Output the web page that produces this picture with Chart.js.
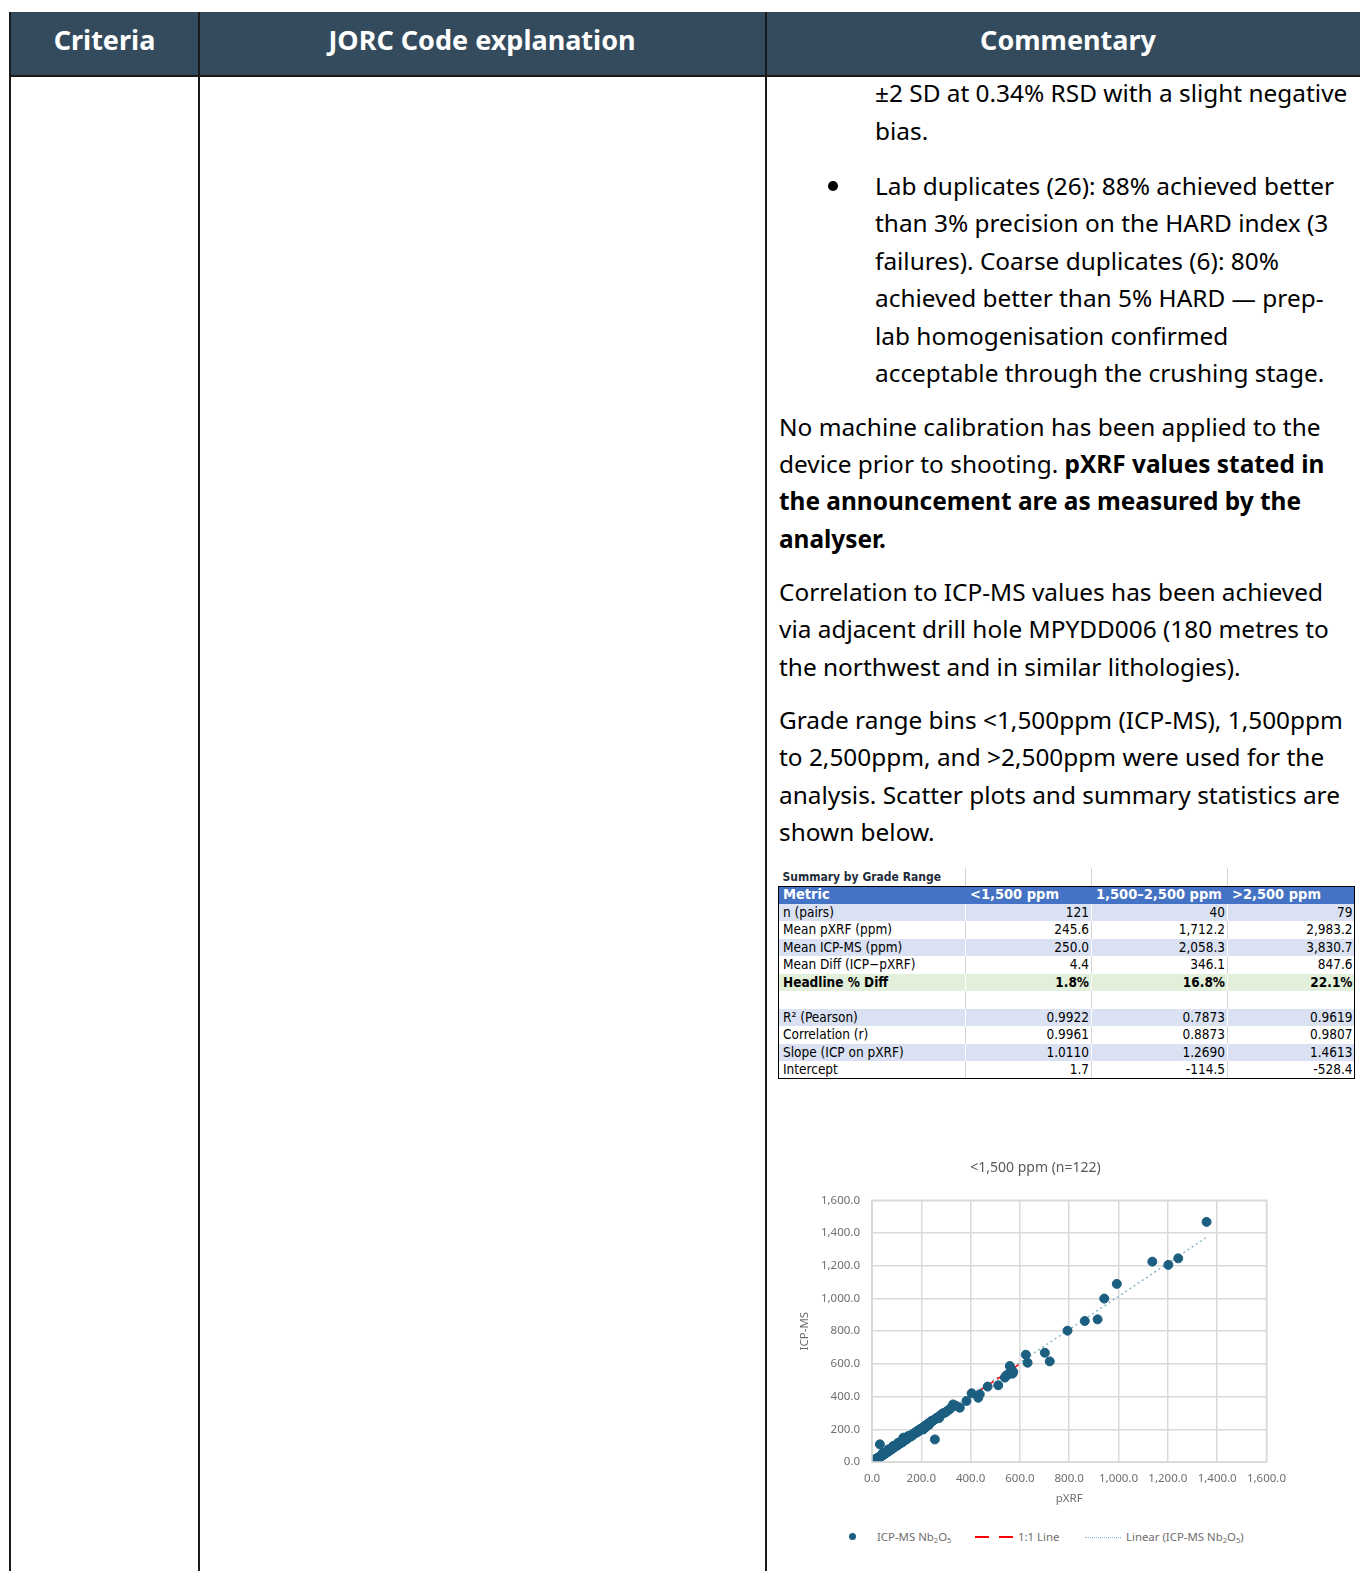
<!DOCTYPE html>
<html>
<head>
<meta charset="utf-8">
<title>Grade range comparison</title>
<script src="https://cdn.jsdelivr.net/npm/chart.js@4.4.1/dist/chart.umd.min.js"></script>
<style>
  html, body { margin: 0; padding: 0; background: #fff; }
  body { width: 1360px; height: 1571px; position: relative; overflow: hidden; font-family: "Noto Sans", "Open Sans", sans-serif; color: #000; }
  .hdr { position: absolute; left: 10px; top: 12px; width: 1350px; height: 64px; background: #344b5d; }
  .hcell { position: absolute; top: 12px; height: 64px; line-height: 56px; color: #fff; font-weight: 700; font-size: 27px; text-align: center; }
  .vline { position: absolute; top: 12px; bottom: 0; width: 2px; background: #1a1a1a; }
  .hline { position: absolute; left: 10px; width: 1350px; height: 2px; background: #1a1a1a; }
  .ln { position: absolute; white-space: nowrap; font-size: 24.4px; line-height: 36px; }
  .bullet { position: absolute; left: 828px; width: 10px; height: 10px; border-radius: 50%; background: #000; }
  table.sum { position: absolute; left: 778px; top: 868px; border-collapse: collapse; table-layout: fixed;
    font-family: "DejaVu Sans Condensed", "DejaVu Sans", sans-serif; font-stretch: condensed; font-size: 13.5px; }
  table.sum td { height: 17.5px; padding: 0 4px 0 4px; box-sizing: border-box; white-space: nowrap; overflow: hidden; border-left: 1px solid #d4d4d4; line-height: 17px; }
  table.sum td.n { text-align: right; padding-right: 2px; }
  table.sum tr.title td { font-weight: 700; color: #1f2d3a; font-size: 12px; height: 18px; }
  table.sum tr.head td { background: #4472c4; color: #fff; font-weight: 700; font-size: 14.5px; border-left-color: #4472c4; }
  table.sum tr.blue td { background: #d9e1f2; border-left-color: #fff; }
  table.sum tr.white td { background: #fff; }
  table.sum tr.green td { background: #e2efda; font-weight: 700; border-left-color: #fff; }
  .box { position: absolute; left: 778px; top: 886px; width: 575px; height: 191px; border: 1px solid #000; pointer-events: none; }
  #chartWrap { position: absolute; left: 778px; top: 1140px; width: 518px; height: 370px; }
  .leg { position: absolute; top: 1529px; font-size: 11.4px; color: #6e6e6e; white-space: nowrap; line-height: 16px; }
  .leg sub { font-size: 7.5px; vertical-align: -2px; }
</style>
</head>
<body>
<div class="hdr"></div>
<div class="hcell" style="left:10px;width:189px;">Criteria</div>
<div class="hcell" style="left:199px;width:566px;">JORC Code explanation</div>
<div class="hcell" style="left:765px;width:606px;">Commentary</div>
<div class="hline" style="top:75px;"></div>
<div class="vline" style="left:9px;"></div>
<div class="vline" style="left:198px;"></div>
<div class="vline" style="left:765px;"></div>

<div class="ln" style="left:875px;top:75px;">±2 SD at 0.34% RSD with a slight negative</div>
<div class="ln" style="left:875px;top:113px;">bias.</div>
<div class="bullet" style="top:181px;"></div>
<div class="ln" style="left:875px;top:168px;">Lab duplicates (26): 88% achieved better</div>
<div class="ln" style="left:875px;top:205px;">than 3% precision on the HARD index (3</div>
<div class="ln" style="left:875px;top:243px;">failures). Coarse duplicates (6): 80%</div>
<div class="ln" style="left:875px;top:280px;">achieved better than 5% HARD — prep-</div>
<div class="ln" style="left:875px;top:318px;">lab homogenisation confirmed</div>
<div class="ln" style="left:875px;top:355px;">acceptable through the crushing stage.</div>

<div class="ln" style="left:779px;top:409px;">No machine calibration has been applied to the</div>
<div class="ln" style="left:779px;top:446px;">device prior to shooting. <b>pXRF values stated in</b></div>
<div class="ln" style="left:779px;top:483px;"><b>the announcement are as measured by the</b></div>
<div class="ln" style="left:779px;top:521px;"><b>analyser.</b></div>

<div class="ln" style="left:779px;top:574px;">Correlation to ICP-MS values has been achieved</div>
<div class="ln" style="left:779px;top:611px;">via adjacent drill hole MPYDD006 (180 metres to</div>
<div class="ln" style="left:779px;top:649px;">the northwest and in similar lithologies).</div>

<div class="ln" style="left:779px;top:702px;">Grade range bins &lt;1,500ppm (ICP-MS), 1,500ppm</div>
<div class="ln" style="left:779px;top:739px;">to 2,500ppm, and &gt;2,500ppm were used for the</div>
<div class="ln" style="left:779px;top:777px;">analysis. Scatter plots and summary statistics are</div>
<div class="ln" style="left:779px;top:814px;">shown below.</div>

<table class="sum">
  <colgroup><col style="width:187px"><col style="width:126px"><col style="width:136px"><col style="width:127px"></colgroup>
  <tr class="title"><td style="border-left:none">Summary by Grade Range</td><td></td><td></td><td></td></tr>
  <tr class="head"><td>Metric</td><td>&lt;1,500 ppm</td><td>1,500–2,500 ppm</td><td>&gt;2,500 ppm</td></tr>
  <tr class="blue"><td>n (pairs)</td><td class="n">121</td><td class="n">40</td><td class="n">79</td></tr>
  <tr class="white"><td>Mean pXRF (ppm)</td><td class="n">245.6</td><td class="n">1,712.2</td><td class="n">2,983.2</td></tr>
  <tr class="blue"><td>Mean ICP-MS (ppm)</td><td class="n">250.0</td><td class="n">2,058.3</td><td class="n">3,830.7</td></tr>
  <tr class="white"><td>Mean Diff (ICP−pXRF)</td><td class="n">4.4</td><td class="n">346.1</td><td class="n">847.6</td></tr>
  <tr class="green"><td>Headline % Diff</td><td class="n">1.8%</td><td class="n">16.8%</td><td class="n">22.1%</td></tr>
  <tr class="white"><td></td><td></td><td></td><td></td></tr>
  <tr class="blue"><td>R² (Pearson)</td><td class="n">0.9922</td><td class="n">0.7873</td><td class="n">0.9619</td></tr>
  <tr class="white"><td>Correlation (r)</td><td class="n">0.9961</td><td class="n">0.8873</td><td class="n">0.9807</td></tr>
  <tr class="blue"><td>Slope (ICP on pXRF)</td><td class="n">1.0110</td><td class="n">1.2690</td><td class="n">1.4613</td></tr>
  <tr class="white"><td>Intercept</td><td class="n">1.7</td><td class="n">-114.5</td><td class="n">-528.4</td></tr>
</table>
<div class="box"></div>

<div id="chartWrap"><canvas id="scatterChart"></canvas></div>

<div class="leg" style="left:849px;"><span style="display:inline-block;width:7px;height:7px;border-radius:50%;background:#1b5e80;vertical-align:1px;"></span></div>
<div class="leg" style="left:877px;">ICP-MS Nb<sub>2</sub>O<sub>5</sub></div>
<div class="leg" style="left:975px;top:1536px;width:14px;height:0;border-top:2px solid #ff0000;"></div>
<div class="leg" style="left:999px;top:1536px;width:14px;height:0;border-top:2px solid #ff0000;"></div>
<div class="leg" style="left:1018px;">1:1 Line</div>
<div class="leg" style="left:1085px;top:1537px;width:36px;height:0;border-top:1px dotted #8db6cc;"></div>
<div class="leg" style="left:1126px;">Linear (ICP-MS Nb<sub>2</sub>O<sub>5</sub>)</div>

<script>
// pXRF vs ICP-MS pairs, <1,500 ppm bin
const pxrf = [
  1357, 1137, 1202, 1242, 993, 942, 915, 863, 793, 701, 721, 624, 631, 559, 573, 553, 539, 565, 570, 545,
  512, 469, 437, 431, 404, 383, 356, 329, 282, 255, 241, 221, 208, 174, 147, 127, 106, 86, 66, 45, 32, 18, 12,
  5, 8, 10, 14, 16, 20, 22, 25, 28, 30, 34, 36, 38, 40, 43, 47, 50, 52, 55, 58, 60, 63, 68, 70, 72, 75,
  78, 80, 83, 88, 90, 93, 96, 98, 101, 104, 109, 112, 115, 118, 120, 124, 130, 133, 136, 140, 143, 150,
  155, 158, 162, 166, 170, 178, 182, 186, 190, 195, 200, 204, 212, 215, 218, 225, 228, 232, 236, 245,
  250, 258, 262, 268, 272, 276, 286, 292, 298, 305, 315, 320, 340
];
const icp = [
  1468, 1225, 1205, 1245, 1089, 999, 872, 862, 803, 668, 615, 656, 607, 587, 551, 536, 516, 565, 540, 530,
  469, 461, 414, 393, 420, 373, 332, 352, 291, 138, 251, 220, 199, 179, 159, 149, 118, 98, 77, 57, 108, 16, 6,
  3, 10, 12, 9, 20, 18, 25, 22, 30, 27, 36, 33, 42, 38, 45, 44, 52, 49, 58, 56, 62, 60, 70, 68, 75, 73,
  80, 84, 81, 90, 94, 92, 100, 97, 105, 102, 112, 115, 113, 122, 125, 121, 134, 138, 135, 146, 141, 153,
  160, 156, 168, 164, 172, 183, 180, 192, 188, 201, 204, 209, 215, 222, 212, 230, 236, 228, 242, 249,
  256, 262, 270, 274, 268, 283, 296, 300, 303, 312, 322, 330, 344
];

// 1:1 reference segment and fitted trend (slope 1.0110, intercept 1.7)
const oneX = [0, 600];
const oneY = [0, 600];
const trendX = [0, 1357];
const trendY = [1.7, 1373.6];

const axisMax = 1600;
const axisStep = 200;

const pointColor = '#1b5e80';
const gridColor = '#d9d9d9';
const textColor = '#6e6e6e';

function fmt(v) {
  return v.toLocaleString('en-US', { minimumFractionDigits: 1, maximumFractionDigits: 1 });
}

const points = pxrf.map((x, i) => ({ x: x, y: icp[i] }));
const oneLine = oneX.map((x, i) => ({ x: x, y: oneY[i] }));
const trendLine = trendX.map((x, i) => ({ x: x, y: trendY[i] }));

const tickFont = { family: '"Noto Sans", sans-serif', size: 11.5 };

new Chart(document.getElementById('scatterChart'), {
  type: 'scatter',
  data: {
    datasets: [
      {
        label: 'ICP-MS Nb₂O₅',
        data: points,
        backgroundColor: pointColor,
        borderColor: pointColor,
        pointRadius: 4.5,
        pointHoverRadius: 4.5,
        order: 0
      },
      {
        type: 'line',
        label: '1:1 Line',
        data: oneLine,
        borderColor: '#ff0000',
        borderDash: [6, 4],
        borderWidth: 1.5,
        pointRadius: 0,
        fill: false,
        order: 1
      },
      {
        type: 'line',
        label: 'Linear (ICP-MS Nb₂O₅)',
        data: trendLine,
        borderColor: '#8db6cc',
        borderDash: [2, 3],
        borderWidth: 1.5,
        pointRadius: 0,
        fill: false,
        order: 2
      }
    ]
  },
  options: {
    responsive: true,
    maintainAspectRatio: false,
    animation: false,
    layout: { padding: { left: 0, right: 3, top: 0, bottom: 0 } },
    plugins: {
      legend: { display: false },
      tooltip: { enabled: false },
      title: {
        display: true,
        text: '<1,500 ppm (n=122)',
        color: '#595959',
        font: { family: '"Noto Sans", sans-serif', size: 14, weight: 'normal' },
        padding: { top: 19.5, bottom: 24 }
      }
    },
    scales: {
      x: {
        type: 'linear',
        min: 0,
        max: axisMax,
        ticks: { stepSize: axisStep, callback: v => fmt(v), color: textColor, font: tickFont, padding: 10, maxRotation: 0 },
        grid: { color: gridColor, lineWidth: 1.5, drawTicks: false },
        border: { color: gridColor, width: 1.5 },
        title: { display: true, text: 'pXRF', color: textColor, font: { family: '"Noto Sans", sans-serif', size: 11.5 }, padding: { top: 0, bottom: 4 } },
        afterFit: scale => { scale.height = 48; }
      },
      y: {
        type: 'linear',
        min: 0,
        max: axisMax,
        ticks: { stepSize: axisStep, callback: v => fmt(v), color: textColor, font: tickFont, padding: 12 },
        grid: { color: gridColor, lineWidth: 1.5, drawTicks: false },
        border: { color: gridColor, width: 1.5 },
        title: { display: true, text: 'ICP-MS', color: textColor, font: { family: '"Noto Sans", sans-serif', size: 11.5 }, padding: { top: 20, bottom: 0 } },
        afterFit: scale => { scale.width = 94; }
      }
    }
  },
  plugins: [{
    id: 'plotFrame',
    afterDraw(chart) {
      const a = chart.chartArea;
      const c = chart.ctx;
      c.save();
      c.strokeStyle = gridColor;
      c.lineWidth = 1.5;
      c.strokeRect(a.left, a.top, a.right - a.left, a.bottom - a.top);
      c.restore();
    }
  }]
});
</script>
</body>
</html>
